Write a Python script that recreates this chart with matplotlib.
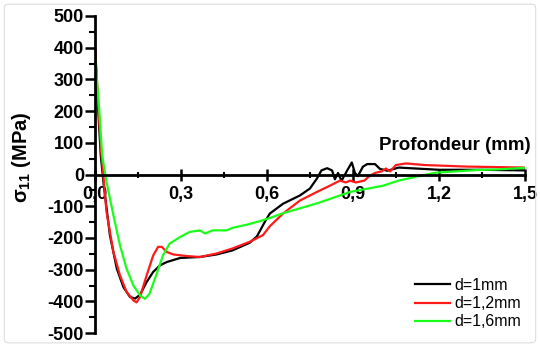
import matplotlib.pyplot as plt
from matplotlib.ticker import MultipleLocator, FuncFormatter
from matplotlib.patches import FancyBboxPatch

# depth (mm) and stress sigma_11 (MPa)
x_1 = [0.0, 0.01, 0.02, 0.03, 0.052, 0.076, 0.099, 0.122, 0.14, 0.157, 0.18, 0.203, 0.227,
       0.25, 0.297, 0.366, 0.424, 0.48, 0.54, 0.565, 0.58, 0.595, 0.61, 0.656, 0.715, 0.75,
       0.774, 0.79, 0.81, 0.827, 0.837, 0.848, 0.86, 0.88, 0.896, 0.907, 0.917, 0.935, 0.95,
       0.977, 0.994, 1.02, 1.06, 1.1, 1.2, 1.35, 1.5]
s_1 = [395, 220, 60, -30, -192, -297, -355, -386, -391, -379, -339, -307, -286,
       -276, -263, -260, -252, -239, -215, -195, -170, -145, -123, -92, -66, -44,
       -13, 13, 20, 13, -15, 5, -20, 13, 38, 5, -5, 25, 33,
       33, 18, 12, 22, 20, 15, 15, 13]

x_2 = [0.0, 0.01, 0.02, 0.04, 0.064, 0.087, 0.11, 0.134, 0.145, 0.157, 0.18, 0.203, 0.22,
       0.233, 0.25, 0.273, 0.32, 0.366, 0.424, 0.48, 0.54, 0.586, 0.61, 0.656, 0.715, 0.774,
       0.82, 0.855, 0.875, 0.89, 0.91, 0.94, 0.957, 0.977, 1.0, 1.015, 1.03, 1.05, 1.085,
       1.15, 1.3, 1.5]
s_2 = [407, 240, 90, -118, -244, -318, -370, -397, -403, -386, -318, -255, -228,
       -228, -244, -252, -257, -260, -249, -233, -212, -191, -163, -123, -82, -55,
       -35, -19, -25, -19, -25, -19, -5, 5, 10, 19, 10, 30, 35,
       30, 25, 22]

x_3 = [0.0, 0.015, 0.025, 0.04, 0.064, 0.087, 0.11, 0.134, 0.157, 0.174, 0.19, 0.213, 0.237,
       0.26, 0.297, 0.33, 0.366, 0.384, 0.41, 0.46, 0.48, 0.53, 0.575, 0.61, 0.656, 0.774,
       0.89, 1.006, 1.06, 1.12, 1.19, 1.26, 1.33, 1.4, 1.5]
s_3 = [375, 200, 60, -23, -128, -223, -297, -350, -381, -392, -376, -318, -255,
       -218, -197, -181, -176, -186, -176, -176, -168, -158, -147, -137, -122, -91,
       -55, -35, -19, -7, 6, 10, 14, 16, 21]

labels = ["d=1mm", "d=1,2mm", "d=1,6mm"]
colors = ["black", "#ff1a1a", "#1aff1a"]

fig = plt.figure(figsize=(5.4, 3.47), dpi=100)
fig.patches.append(FancyBboxPatch((0.008, 0.012), 0.984, 0.976, boxstyle="round,pad=0,rounding_size=0.01",
                                  transform=fig.transFigure, fill=False, edgecolor="#dddddd", lw=0.8))
ax = fig.add_axes([0.176, 0.040, 0.796, 0.914])

for xs, ys, lab, c in zip([x_1, x_2, x_3], [s_1, s_2, s_3], labels, colors):
    ax.plot(xs, ys, color=c, lw=1.6, label=lab)

ax.set_xlim(0, 1.5)
ax.set_ylim(-500, 500)
ax.spines['top'].set_visible(False)
ax.spines['right'].set_visible(False)
ax.spines['bottom'].set_position(('data', 0))
ax.spines['left'].set_linewidth(2)
ax.spines['bottom'].set_linewidth(2)

ax.xaxis.set_major_locator(MultipleLocator(0.3))
ax.xaxis.set_minor_locator(MultipleLocator(0.15))
ax.yaxis.set_major_locator(MultipleLocator(100))
ax.yaxis.set_minor_locator(MultipleLocator(50))
ax.xaxis.set_major_formatter(FuncFormatter(lambda v, p: f"{v:.1f}".replace(".", ",")))
ax.yaxis.set_major_formatter(FuncFormatter(lambda v, p: f"{v:.0f}"))

ax.tick_params(axis='x', which='major', direction='inout', length=8, width=1.8, pad=4)
ax.tick_params(axis='x', which='minor', direction='inout', length=5, width=1.5)
ax.tick_params(axis='y', which='major', direction='out', length=7, width=1.8, pad=1)
ax.tick_params(axis='y', which='minor', direction='out', length=4, width=1.5)
for t in ax.get_xticklabels() + ax.get_yticklabels():
    t.set_fontweight('bold')
    t.set_fontsize(13)
    t.set_family('Liberation Sans')

ax.set_ylabel(r"$\mathregular{\sigma_{11}}$ (MPa)", fontsize=14.5, fontweight='bold', family='Liberation Sans')
ax.yaxis.set_label_coords(-0.145, 0.555)
ax.text(1.256, 91, "Profondeur (mm)", ha='center', va='center', fontsize=13.5,
        fontweight='bold', family='Liberation Sans')

ax.legend(loc='lower left', frameon=False, handlelength=2.2,
          prop={'family': 'Liberation Sans', 'size': 11.5}, labelspacing=0.2,
          handletextpad=0.3, borderpad=0, borderaxespad=0, bbox_to_anchor=(0.744, 0.012))

fig.savefig("out.png", dpi=100)
